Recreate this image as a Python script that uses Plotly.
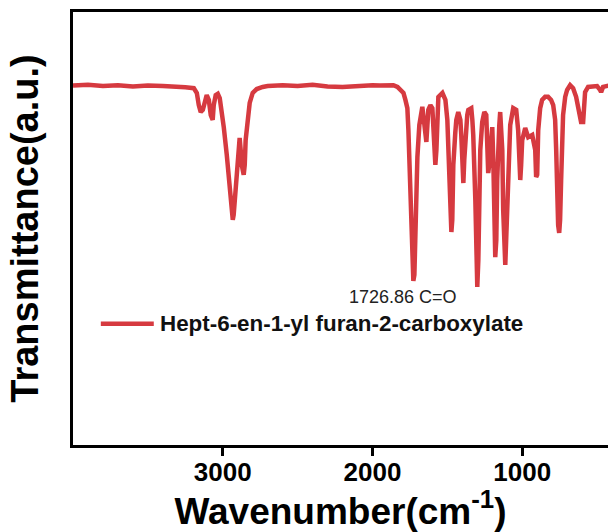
import plotly.graph_objects as go

# Wavenumber (cm^-1) and transmittance (arbitrary %)
wavenumber = [
    4000, 3900, 3800, 3700, 3600, 3500, 3400, 3300, 3250, 3193, 3173, 3160, 3147, 3133,
    3120, 3107, 3093, 3080, 3067, 3060, 3047, 3033, 3020, 3007, 2993, 2973, 2960, 2947,
    2940, 2933, 2927, 2913, 2907, 2893, 2887, 2880, 2873, 2860, 2853, 2847, 2833, 2820,
    2800, 2773, 2733, 2700, 2600, 2500, 2400, 2300, 2200, 2100, 2000, 1950, 1900, 1860,
    1833, 1813, 1793, 1780, 1767, 1760, 1747, 1740, 1733, 1727, 1720, 1713, 1707, 1700,
    1687, 1667, 1653, 1640, 1627, 1613, 1600, 1593, 1580, 1573, 1567, 1560, 1533, 1513,
    1500, 1493, 1480, 1473, 1467, 1460, 1447, 1440, 1427, 1413, 1407, 1393, 1387, 1380,
    1367, 1360, 1340, 1333, 1327, 1313, 1307, 1300, 1293, 1287, 1280, 1267, 1253, 1240,
    1233, 1227, 1220, 1213, 1200, 1193, 1187, 1180, 1173, 1167, 1153, 1147, 1133, 1127,
    1113, 1107, 1100, 1093, 1080, 1060, 1040, 1027, 1013, 1007, 1000, 980, 960, 933,
    913, 907, 900, 893, 880, 867, 847, 827, 807, 793, 780, 773, 767, 760, 753, 747,
    740, 733, 727, 713, 700, 680, 660, 640, 627, 613, 607, 593, 587, 580, 560, 527,
    500, 480, 473, 460, 440, 427, 400,
]
transmittance = [
    83.0, 83.2, 82.9, 83.1, 82.8, 83.0, 82.9, 82.8, 82.6, 82.4, 81.3, 78.5, 76.9, 77.4,
    79.2, 80.8, 79.7, 76.2, 75.1, 78.5, 80.8, 81.1, 80.1, 77.4, 73.4, 67.0, 61.9, 56.6,
    53.1, 52.0, 53.1, 58.9, 63.5, 69.3, 70.9, 68.1, 64.7, 62.4, 64.7, 70.4, 75.1, 79.0,
    81.3, 82.2, 82.7, 82.9, 83.1, 82.9, 83.2, 82.8, 82.7, 83.0, 83.1, 83.0, 83.0, 83.1,
    82.7, 82.0, 81.3, 79.7, 77.8, 72.7, 56.6, 47.3, 40.4, 37.9, 39.3, 50.8, 58.9, 66.5,
    73.9, 78.1, 73.9, 70.0, 77.4, 78.5, 77.8, 73.9, 64.7, 68.1, 77.4, 80.4, 81.3, 79.7,
    75.1, 68.1, 54.3, 49.2, 52.0, 64.7, 72.1, 75.1, 76.9, 75.1, 71.6, 60.5, 65.8, 70.4,
    76.2, 77.4, 77.8, 75.1, 71.6, 56.6, 45.0, 36.5, 42.7, 58.9, 68.1, 74.6, 76.9, 76.2,
    70.4, 62.8, 64.7, 68.6, 73.4, 65.8, 52.0, 43.4, 47.3, 61.2, 73.9, 76.9, 68.1, 54.3,
    41.6, 47.3, 58.9, 65.8, 73.9, 77.8, 77.4, 72.7, 61.2, 64.7, 70.4, 73.2, 71.1, 71.6,
    68.1, 61.9, 62.4, 72.7, 77.8, 79.7, 80.4, 80.4, 79.7, 78.5, 75.1, 68.1, 56.6, 50.8, 49.0, 52.0,
    61.2, 68.1, 76.2, 80.4, 82.0, 83.1, 82.4, 80.4, 78.1, 75.5, 74.6, 74.6, 77.4, 81.5, 82.7, 82.9,
    82.9, 82.0, 81.5, 82.7, 82.9, 83.1, 83.2,
]

series_name = "Hept-6-en-1-yl furan-2-carboxylate"
peak_label = "1726.86 C=O"
peak_label_pos = (1793, 34.2)
x_ticks = [3000, 2000, 1000]
x_range = [4000, 427]
y_range = [0, 100]

RED = "#D63A40"
FONT = "Liberation Sans, Arial, sans-serif"

fig = go.Figure()
fig.add_trace(go.Scatter(
    x=wavenumber, y=transmittance, mode="lines",
    line=dict(color=RED, width=4.5), name=series_name, showlegend=False,
))

# manual legend (line sample + label)
fig.add_shape(type="line", xref="paper", yref="paper",
              x0=0.052, x1=0.151, y0=0.28, y1=0.28,
              line=dict(color=RED, width=4.5))
fig.add_annotation(xref="paper", yref="paper", x=0.158, y=0.28,
                   text=series_name, showarrow=False, xanchor="left", yanchor="middle",
                   font=dict(family=FONT, size=22.4, color="#111", weight="bold"))

fig.add_annotation(x=peak_label_pos[0], y=peak_label_pos[1], text=peak_label,
                   showarrow=False, xanchor="center", yanchor="middle",
                   font=dict(family=FONT, size=18, color="#222"))

fig.update_xaxes(
    range=x_range, tickvals=x_ticks, ticktext=[str(v) for v in x_ticks],
    showline=True, linecolor="black", linewidth=2.5, mirror=True,
    ticks="outside", ticklen=8, tickwidth=2.5, tickcolor="black",
    ticklabelstandoff=-6,
    tickfont=dict(family=FONT, size=26, color="black", weight="bold"),
    showgrid=False, zeroline=False,
    title=dict(text="Wavenumber(cm<sup>-1</sup>)", standoff=10,
               font=dict(family=FONT, size=37, color="black", weight="bold")),
)
fig.update_yaxes(
    range=y_range, showticklabels=False, ticks="",
    showline=True, linecolor="black", linewidth=2.5, mirror=False,
    showgrid=False, zeroline=False,
    title=dict(text="Transmittance(a.u.)", standoff=20,
               font=dict(family=FONT, size=38, color="black", weight="bold")),
)
fig.update_layout(
    width=608, height=532,
    margin=dict(l=73, r=0, t=12, b=87),
    paper_bgcolor="white", plot_bgcolor="white",
)
fig.write_html("out.html", config={"displayModeBar": False},
               post_script="document.body.style.margin='0';document.body.style.overflow='hidden';")
